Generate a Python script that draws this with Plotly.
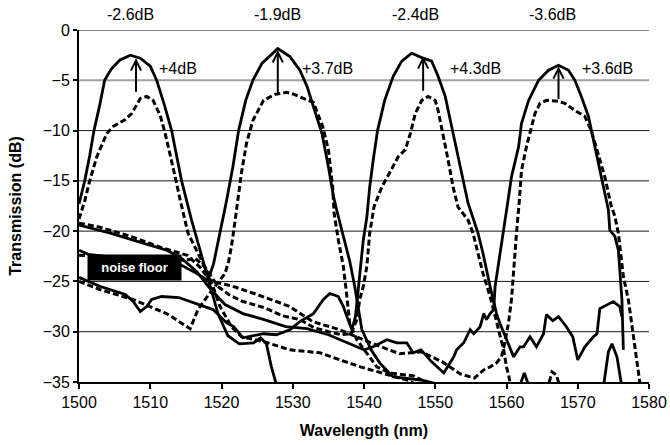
import plotly.graph_objects as go

# ---------------- data ----------------
s1_wl = [1500, 1500.8, 1501.5, 1502.1, 1502.9, 1503.6, 1504.5, 1505.7, 1507.2, 1508.6, 1510, 1510.9, 1512, 1513,
         1513.7, 1514.4, 1515.8, 1517, 1518, 1519.5, 1520.9, 1522.5, 1524.5, 1525.5, 1526.3, 1527, 1527.8]
s1_db = [-17.3, -15, -12.5, -10, -7.5, -5, -3.9, -3.0, -2.5, -2.8, -3.6, -5, -7.5, -10,
         -12.5, -15, -18.9, -22, -24.5, -28.2, -30.4, -31.2, -31.1, -30.6, -31.2, -33.5, -35.5]

d1_wl = [1500, 1500.8, 1501.5, 1502.5, 1503.9, 1504.8, 1506.5, 1507.4, 1508.6, 1509.5, 1510.4, 1511.4, 1512.1,
         1512.8, 1513.5, 1514.2, 1515.3, 1516.7, 1517.9, 1518.8, 1519.8, 1521.4, 1522.8, 1526, 1529.6, 1533.8,
         1536.6, 1539.5, 1543, 1546, 1548]
d1_db = [-18.8, -17, -15, -12.6, -10.3, -9.6, -8.9, -8.3, -6.8, -6.6, -7.0, -8.5, -10.3,
         -12.3, -14.6, -16.9, -20.2, -22.2, -23.9, -25.5, -27.5, -29.5, -30.5, -31, -31.8, -32.1,
         -32.8, -33.5, -34.2, -34.8, -35.5]

s2_wl = [1500, 1501.3, 1505, 1510, 1514.4, 1516.5, 1518.1, 1518.9, 1519.7, 1520.7, 1521.6, 1522.4, 1523.4,
         1524.4, 1525.7, 1527.9, 1529.6, 1531, 1532, 1533.1, 1534.1, 1535, 1535.7, 1536.2, 1537.1, 1538,
         1538.7, 1539.2, 1539.7, 1541, 1542.2, 1544.1, 1548, 1552, 1561.8, 1562.5, 1563.2, 1573.6, 1574.3,
         1574.8, 1575.5, 1576.2]
s2_db = [-21.9, -22.3, -22.6, -23, -23.4, -24.2, -24.9, -23.2, -20.5, -17, -13.6, -10, -7,
         -5, -3.3, -1.85, -2.65, -4, -5.6, -8, -10.3, -13.6, -16.5, -18, -20.5, -23,
         -25.5, -27.8, -29.8, -31.8, -33.1, -34.5, -34.8, -35.5, -35.5, -34.1, -35.5, -35.5, -32,
         -31.2, -32.5, -35.5]

d2_wl = [1500, 1502.9, 1507.6, 1512.3, 1515.6, 1516.7, 1517.9, 1519.3, 1520.5, 1521, 1521.4, 1521.9, 1522.4,
         1522.8, 1523.5, 1524.4, 1525.9, 1527.5, 1529.1, 1530.2, 1531.5, 1532.9, 1534.2, 1535, 1535.6, 1535.8,
         1536.4, 1537.1, 1537.6, 1538, 1539, 1540.4, 1541.8, 1543.6, 1547, 1550]
d2_db = [-25, -25.8, -26.8, -28.2, -29.7, -27.8, -26.6, -25.3, -24.2, -23, -21.5, -19, -16.5,
         -14.2, -11.3, -9, -7, -6.4, -6.2, -6.4, -6.8, -7.2, -9.6, -11.9, -15.6, -18.2,
         -20.9, -23.5, -26.5, -29.2, -30.8, -32.1, -33.5, -34.1, -34.4, -35.5]

s3_wl = [1500, 1503, 1506.5, 1507.6, 1508.6, 1509.5, 1510.2, 1511.6, 1514, 1516.5, 1518.8, 1520.7, 1521.7,
         1523, 1525.9, 1527.7, 1529.6, 1531, 1532.9, 1534.3, 1535.2, 1536.4, 1537.1, 1537.6, 1538.3,
         1538.8, 1539.1, 1539.4, 1539.9, 1540.4, 1540.8, 1541.3, 1541.9, 1542.9, 1544.1, 1545.3, 1546.7,
         1548.3, 1549.5, 1550.4, 1551.4, 1552.3, 1553.2, 1553.9, 1554.6, 1556, 1556.7, 1557.7, 1558.2,
         1558.6, 1559.1, 1560, 1561, 1561.9, 1562.4, 1563.3, 1564.2, 1565.2, 1565.6, 1566.5, 1567.3,
         1568.4, 1569.3, 1570, 1571, 1572.2, 1572.7, 1573.1, 1574, 1575, 1575.9, 1576.2]
s3_db = [-24.6, -25.5, -26.3, -27, -28, -27.5, -26.8, -26.5, -26.6, -27.2, -27.8, -29.1, -29.5,
         -30.6, -30.2, -30.3, -29.8, -29, -28.2, -26.8, -26.2, -26.5, -27.5, -28.5, -29.8,
         -28.5, -26.5, -24.2, -20.9, -18.6, -15.6, -12.9, -10, -7, -4.6, -3.1, -2.3,
         -2.8, -3.1, -4.6, -6.6, -9.6, -12.6, -14.9, -17.2, -20.2, -22.2, -25.5, -27.2,
         -28.2, -29.2, -30.8, -32.5, -31.5, -31.5, -30.5, -31.5, -30.2, -28.3, -28.9, -28.5,
         -29.5, -30.5, -32.8, -31.5, -30.5, -30.2, -27.7, -27.4, -27, -27.5, -28.5]

d3_wl = [1500, 1505, 1510, 1514.9, 1516.3, 1517.7, 1519.5, 1521, 1523, 1526, 1528.5, 1531, 1533, 1535,
         1536.8, 1538.2, 1539, 1539.4, 1539.9, 1540.4, 1540.8, 1541.4, 1542.5, 1543.6, 1544.8, 1545.8,
         1546.5, 1547.2, 1548.1, 1549, 1550, 1550.4, 1551.1, 1551.8, 1552.5, 1553.2, 1554.6, 1555.3,
         1556, 1556.7, 1557.7, 1558.4, 1559.1, 1559.6, 1560, 1560.3, 1560.6, 1565.8, 1566.4, 1567, 1567.5,
         1580]
d3_db = [-22.4, -22.6, -22.8, -22.9, -22.7, -23.6, -25.5, -26.3, -27, -27.6, -28.4, -28.8, -29.6, -30,
         -30.3, -30.2, -28.8, -26.8, -25.5, -23.5, -20.2, -17.6, -15.6, -14.2, -12.6, -11.9,
         -10.3, -8.3, -7, -6.6, -7, -8, -10.3, -12.9, -15.6, -17.6, -18.9, -20.2,
         -22.2, -24.2, -26.5, -28.5, -30.5, -31.8, -33.5, -34.3, -35.5, -35.5, -34, -34.3, -35.5,
         -35.5]

s4_wl = [1500, 1504.4, 1509, 1512.3, 1514.2, 1516.5, 1518.5, 1520.5, 1523, 1526, 1529, 1532, 1535, 1538,
         1540, 1541.3, 1543.2, 1544.6, 1546, 1546.9, 1548, 1549.5, 1551.2, 1552.6, 1553, 1554, 1554.9,
         1555.4, 1556.3, 1556.8, 1557.2, 1557.7, 1558.2, 1558.4, 1558.9, 1559.6, 1560.2, 1560.7, 1561.7,
         1562.1, 1563.1, 1564.5, 1565.9, 1567.3, 1568.7, 1569.6, 1570.5, 1571.5, 1572.2, 1572.9, 1573.6,
         1574.3, 1574.5, 1575.2, 1575.7, 1576, 1576.2, 1576.4]
s4_db = [-19.4, -20.2, -21.2, -21.9, -22.6, -24, -25.8, -27.3, -28.2, -28.8, -29.5, -29.7, -30.3, -31.2,
         -31.8, -31.5, -30.8, -31.1, -31.1, -32.1, -31.8, -33, -34.1, -32.5, -31.8, -31.1, -29.8,
         -30.2, -29.5, -28.2, -28.8, -28.2, -27.8, -25.5, -23.2, -20.2, -17, -14.6, -11.6,
         -9.3, -7, -5, -4, -3.5, -4, -5, -6.6, -8.6, -10.9, -13.3, -15.6,
         -17.9, -19.9, -20.5, -21.9, -24.5, -26.8, -31.8]

d4_wl = [1500, 1502.9, 1507.6, 1511.4, 1515.2, 1517, 1518.5, 1521.2, 1525, 1529.6, 1532.8, 1536.6, 1541.3,
         1545, 1548, 1551, 1553.5, 1555.5, 1556.8, 1557.7, 1558.6, 1559.3, 1559.8, 1560.3, 1560.7, 1561,
         1561.4, 1561.8, 1562.1, 1562.8, 1563.5, 1564, 1564.7, 1565.6, 1567.3, 1568.2, 1569.6, 1571,
         1571.9, 1572.9, 1573.8, 1574.7, 1575.2, 1575.7, 1576.4, 1577.1, 1577.6, 1578, 1578.5, 1578.8]
d4_db = [-19.2, -19.6, -20.6, -21.6, -22.4, -23.6, -25, -25.4, -26.3, -27.5, -29, -29.8, -31.2,
         -32.2, -32, -33, -34.2, -34.6, -33.8, -33.5, -33.1, -32.5, -31, -29, -26.8, -23.5,
         -20.2, -17, -14, -11.6, -9.6, -8.3, -7.3, -7, -7.1, -7.3, -8, -8.6,
         -10, -12.3, -14.6, -17.5, -18.5, -20.2, -24.5, -26.8, -29.5, -31.5, -33.8, -35.5]

loss_labels = ["-2.6dB", "-1.9dB", "-2.4dB", "-3.6dB"]
loss_x = [1507.2, 1527.8, 1547.2, 1566.4]
gain_labels = ["+4dB", "+3.7dB", "+4.3dB", "+3.6dB"]
gain_label_x = [1510.9, 1531.0, 1551.8, 1570.3]
arrow_x = [1508.0, 1527.9, 1548.3, 1567.3]
arrow_from = [-6.3, -6.5, -6.2, -7.0]
arrow_to = [-2.8, -2.0, -2.6, -3.6]

x_ticks = [1500, 1510, 1520, 1530, 1540, 1550, 1560, 1570, 1580]
y_ticks = [0, -5, -10, -15, -20, -25, -30, -35]

FONT = "Liberation Sans, Arial, sans-serif"

fig = go.Figure()
solid = [(s1_wl, s1_db), (s2_wl, s2_db), (s3_wl, s3_db), (s4_wl, s4_db)]
dashed = [(d1_wl, d1_db), (d2_wl, d2_db), (d3_wl, d3_db), (d4_wl, d4_db)]
for wl, db in dashed:
    fig.add_trace(go.Scatter(x=wl, y=db, mode="lines",
                             line=dict(color="black", width=3, dash="6px,3px"),
                             showlegend=False, hoverinfo="skip"))
for wl, db in solid:
    fig.add_trace(go.Scatter(x=wl, y=db, mode="lines",
                             line=dict(color="black", width=2.8),
                             showlegend=False, hoverinfo="skip"))

annotations = []
for lab, x in zip(loss_labels, loss_x):
    annotations.append(dict(x=x, y=1.043, xref="x", yref="paper", text=lab, showarrow=False,
                            font=dict(family=FONT, size=16, color="black"),
                            xanchor="center", yanchor="middle"))
for lab, x in zip(gain_labels, gain_label_x):
    annotations.append(dict(x=x, y=-3.8, xref="x", yref="y", text=lab, showarrow=False,
                            font=dict(family=FONT, size=16, color="black"),
                            xanchor="left", yanchor="middle"))
for x, y0, y1 in zip(arrow_x, arrow_from, arrow_to):
    annotations.append(dict(x=x, y=y1, ax=x, ay=y0, xref="x", yref="y", axref="x", ayref="y",
                            text="", showarrow=True, arrowhead=5, arrowsize=1,
                            arrowwidth=2, arrowcolor="black", standoff=0, startstandoff=0))
annotations.append(dict(x=1507.85, y=-23.65, xref="x", yref="y", text="<b>noise floor</b>",
                        showarrow=False, font=dict(family=FONT, size=13, color="white"),
                        bgcolor="black", width=91, height=23, borderpad=1,
                        xanchor="center", yanchor="middle"))

# horizontal gridlines at the y tick values (the -5 one renders lighter in the reference)
shapes = []
for yv in y_ticks[:-1]:
    light = (yv == -5)
    shapes.append(dict(type="line", xref="paper", yref="y", x0=0, x1=1, y0=yv, y1=yv,
                       line=dict(color="#a0a0a0" if light else "#1a1a1a", width=2 if light else 1),
                       layer="below"))

fig.update_layout(
    width=670, height=445,
    margin=dict(l=79, r=21, t=30, b=63, autoexpand=False),
    paper_bgcolor="white", plot_bgcolor="white",
    font=dict(family=FONT, size=16, color="black"),
    annotations=annotations,
    shapes=shapes,
    xaxis=dict(range=[1500, 1580], tickvals=x_ticks, ticks="outside", ticklen=5, tickwidth=1.5,
               tickcolor="black", showline=True, linecolor="black", linewidth=2,
               showgrid=False, zeroline=False, automargin=False,
               title=dict(text="<b>Wavelength (nm)</b>", font=dict(family=FONT, size=16), standoff=15),
               tickfont=dict(family=FONT, size=16)),
    yaxis=dict(range=[-35, 0], tickvals=y_ticks, ticks="outside", ticklen=4, tickwidth=1.5,
               tickcolor="black", showline=True, linecolor="black", linewidth=2,
               showgrid=False, zeroline=False, automargin=False,
               title=dict(text="<b>Transmission (dB)</b>", font=dict(family=FONT, size=16), standoff=17),
               tickfont=dict(family=FONT, size=16)),
)

fig.write_html("out.html", config={"displayModeBar": False},
               post_script="document.body.style.margin='0';")
